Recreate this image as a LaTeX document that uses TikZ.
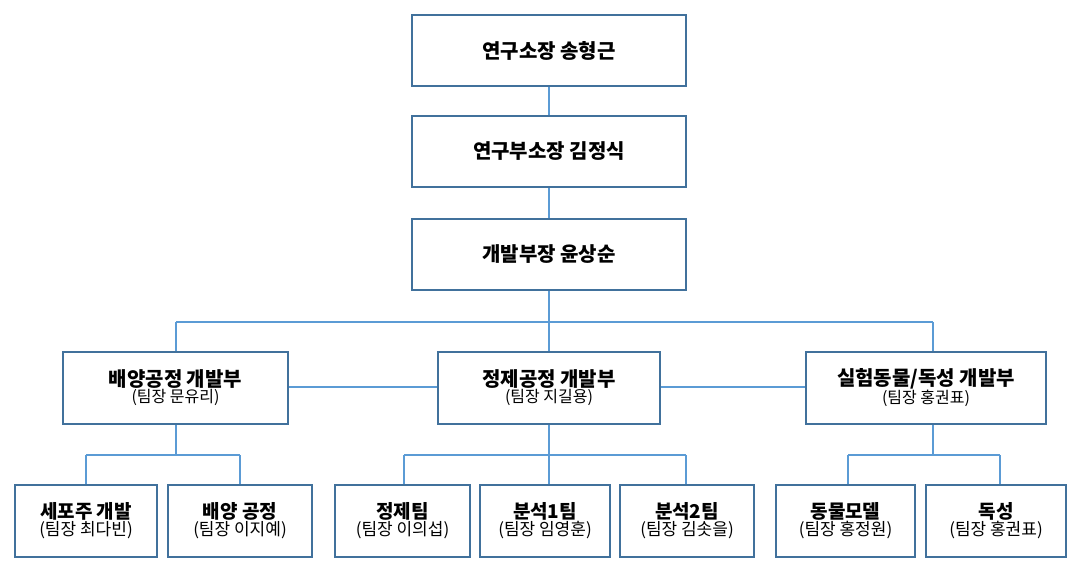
\documentclass[tikz,border=0pt]{standalone}
\usepackage{fontspec}
\setmainfont{Noto Sans CJK KR}
\begin{document}
\begin{tikzpicture}[x=1pt,y=-1pt,
 box/.style={draw=bx,line width=1.6pt,fill=white,align=center,inner sep=0pt},
 ln/.style={draw=ln,line width=1.4pt},
 t/.style={font=\fontsize{19}{22}\selectfont\bfseries},
 s/.style={font=\fontsize{16}{19}\selectfont}]
\definecolor{bx}{HTML}{41719C}\definecolor{ln}{HTML}{5B9BD5}
\useasboundingbox (0,0) rectangle (1086,573);
\newcommand\bx[6]{\node[box,minimum width=#4-#3,minimum height=#6-#5] (#1) at ({(#3+#4)/2},{(#5+#6)/2}) {#2};}
\draw[ln] (549,50)--(549,322); \draw[ln] (176,322)--(933,322);
\draw[ln] (176,322)--(176,455); \draw[ln] (933,322)--(933,455);
\draw[ln] (549,322)--(549,455);
\draw[ln] (176,387)--(933,387);
\draw[ln] (86,455)--(240,455); \draw[ln] (404,455)--(686,455); \draw[ln] (848,455)--(1000,455);
\foreach \x in {86,240,404,549,686,848,1000} \draw[ln] (\x,455)--(\x,485);
\bx{a}{\fontsize{20}{24}\selectfont\bfseries 연구소장 송형근}{412}{686}{15}{86}
\bx{b}{\fontsize{20}{24}\selectfont\bfseries 연구부소장 김정식}{412}{686}{116}{187}
\bx{c}{\fontsize{20}{24}\selectfont\bfseries 개발부장 윤상순}{412}{686}{219}{290}
\bx{d}{{\fontsize{20}{24}\selectfont\bfseries 배양공정 개발부}\\{\fontsize{16}{19}\selectfont (팀장 문유리)}}{63}{288}{352}{424}
\bx{e}{{\fontsize{20}{24}\selectfont\bfseries 정제공정 개발부}\\{\fontsize{16}{19}\selectfont (팀장 지길용)}}{438}{660}{352}{424}
\bx{f}{{\fontsize{20}{24}\selectfont\bfseries 실험동물/독성 개발부}\\{\fontsize{16}{19}\selectfont (팀장 홍권표)}}{806}{1046}{352}{424}
\bx{g1}{{\fontsize{19}{24}\selectfont\bfseries 세포주 개발}\\{\fontsize{17}{21}\selectfont (팀장 최다빈)}}{15}{157}{485}{557}
\bx{g2}{{\fontsize{19}{24}\selectfont\bfseries 배양 공정}\\{\fontsize{17}{21}\selectfont (팀장 이지예)}}{168}{312}{485}{557}
\bx{g3}{{\fontsize{19}{24}\selectfont\bfseries 정제팀}\\{\fontsize{17}{21}\selectfont (팀장 이의섭)}}{335}{470}{485}{557}
\bx{g4}{{\fontsize{19}{24}\selectfont\bfseries 분석1팀}\\{\fontsize{17}{21}\selectfont (팀장 임영훈)}}{480}{610}{485}{557}
\bx{g5}{{\fontsize{19}{24}\selectfont\bfseries 분석2팀}\\{\fontsize{17}{21}\selectfont (팀장 김솟을)}}{620}{754}{485}{557}
\bx{g6}{{\fontsize{19}{24}\selectfont\bfseries 동물모델}\\{\fontsize{17}{21}\selectfont (팀장 홍정원)}}{776}{915}{485}{557}
\bx{g7}{{\fontsize{19}{24}\selectfont\bfseries 독성}\\{\fontsize{17}{21}\selectfont (팀장 홍권표)}}{926}{1066}{485}{557}
\end{tikzpicture}
\end{document}
